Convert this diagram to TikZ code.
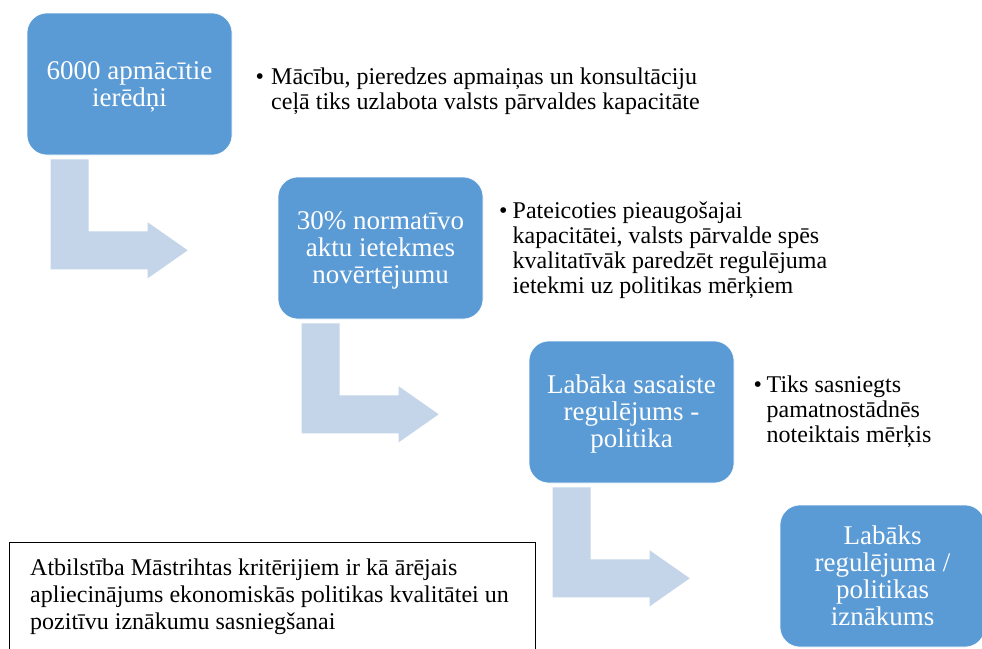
\documentclass[tikz,border=0pt]{standalone}
\usepackage{fontspec}
\setmainfont{Liberation Serif}
\usetikzlibrary{calc}
\definecolor{boxblue}{RGB}{91,155,213}
\definecolor{arrowblue}{RGB}{196,213,234}
\tikzset{
  stagebox/.style={fill=boxblue, draw=white, line width=0.6pt, rounded corners=20pt,
    minimum width=205pt, minimum height=142pt, inner sep=0pt},
  stagetext/.style={anchor=base, inner sep=0pt, text=white,
    font={\fontsize{27}{27.2}\selectfont}},
  bullettext/.style={anchor=base west, inner sep=0pt,
    font={\fontsize{24}{25}\selectfont}},
  frametext/.style={anchor=base west, inner sep=0pt,
    font={\fontsize{24}{27.3}\selectfont}},
  framebox/.style={draw=black, line width=0.9pt, anchor=north west, inner sep=0pt,
    minimum width=526pt, minimum height=130pt},
  bentfill/.style={fill=arrowblue, draw=none}
}
\newcommand\bentarrowfrom[1]{%
  \fill[bentfill] ($(#1.south west)+(24,4)$) -- ++(38,0) -- ++(0,72) -- ++(59,0)
    -- ++(0,-9) -- ++(40,28) -- ++(-40,28) -- ++(0,-9) -- ++(-97,0) -- cycle;}
\begin{document}
\begin{tikzpicture}[x=1pt, y=-1pt]
\useasboundingbox (0,0) rectangle (982,648);
\begin{scope}
\clip (0,0) rectangle (982,648);
\fill[white] (0,0) rectangle (982,648);

\node[stagebox] (b1) at (129.5,84) {};
\node[stagebox] (b2) at (380.5,248) {};
\node[stagebox] (b3) at (631.5,412) {};
\node[stagebox] (b4) at (882.5,576) {};

\node[stagetext] (b1t) at ($(b1.center)+(0,-4.5)$) {\begin{tabular}[t]{@{}c@{}}6000 apmācītie\\ierēdņi\end{tabular}};
\node[stagetext] (b2t) at ($(b2.center)+(0,-18.5)$) {\begin{tabular}[t]{@{}c@{}}30\% normatīvo\\aktu ietekmes\\novērtējumu\end{tabular}};
\node[stagetext] (b3t) at ($(b3.center)+(0,-18.5)$) {\begin{tabular}[t]{@{}c@{}}Labāka sasaiste\\regulējums -\\politika\end{tabular}};
\node[stagetext] (b4t) at ($(b4.center)+(0,-32)$) {\begin{tabular}[t]{@{}c@{}}Labāks\\regulējuma /\\politikas\\iznākums\end{tabular}};

\bentarrowfrom{b1}
\bentarrowfrom{b2}
\bentarrowfrom{b3}

\node[bullettext] (t1) at (255.5,84) {\makebox[15.5pt][l]{•}\begin{tabular}[t]{@{}l@{}}Mācību, pieredzes apmaiņas un konsultāciju\\ceļā tiks uzlabota valsts pārvaldes kapacitāte\end{tabular}};
\node[bullettext] (t2) at (499,218) {\makebox[13.5pt][l]{•}\begin{tabular}[t]{@{}l@{}}Pateicoties pieaugošajai\\kapacitātei, valsts pārvalde spēs\\kvalitatīvāk paredzēt regulējuma\\ietekmi uz politikas mērķiem\end{tabular}};
\node[bullettext] (t3) at (753.5,392) {\makebox[13pt][l]{•}\begin{tabular}[t]{@{}l@{}}Tiks sasniegts\\pamatnostādnēs\\noteiktais mērķis\end{tabular}};

\node[framebox] (fr) at (9,542) {};
\node[frametext] (ft) at (30,575) {\begin{tabular}[t]{@{}l@{}}Atbilstība Māstrihtas kritērijiem ir kā ārējais\\apliecinājums ekonomiskās politikas kvalitātei un\\pozitīvu iznākumu sasniegšanai\end{tabular}};
\end{scope}
\end{tikzpicture}
\end{document}
